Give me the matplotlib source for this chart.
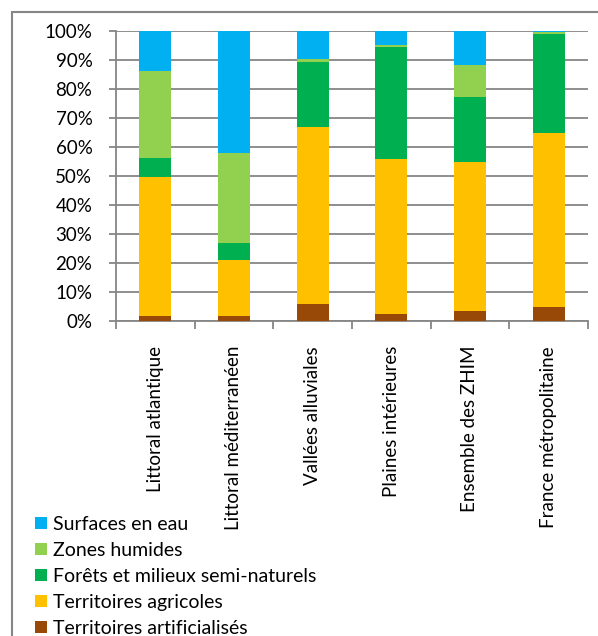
import matplotlib
matplotlib.use("Agg")
import matplotlib.pyplot as plt
from matplotlib.patches import Rectangle
from matplotlib.ticker import FixedLocator, PercentFormatter
import numpy as np

plt.rcParams['font.family'] = ['Lato', 'DejaVu Sans']

categories = ["Littoral atlantique", "Littoral méditerranéen", "Vallées alluviales",
              "Plaines intérieures", "Ensemble des ZHIM", "France métropolitaine"]

# parts in % (bottom to top)
artificialises = [1.8, 1.8, 5.9, 2.5, 3.3, 4.7]
agricoles = [48.0, 19.3, 61.0, 53.3, 51.6, 60.2]
forets = [6.5, 5.8, 22.4, 38.6, 22.5, 34.2]
humides = [29.9, 31.0, 1.0, 0.8, 10.9, 0.4]
eau = [13.8, 42.1, 9.7, 4.8, 11.7, 0.5]

series = [
    ("Territoires artificialisés", artificialises, "#984807"),
    ("Territoires agricoles", agricoles, "#FFC000"),
    ("Forêts et milieux semi-naturels", forets, "#00B050"),
    ("Zones humides", humides, "#92D050"),
    ("Surfaces en eau", eau, "#00B0F0"),
]

fig = plt.figure(figsize=(5.98, 6.36), dpi=100)
ax = fig.add_axes([116/598, 1-321/636, (588-116)/598, (321-31)/636])

x = np.arange(len(categories))
bottom = np.zeros(len(categories))
handles = []
for name, vals, col in series:
    b = ax.bar(x, vals, 0.41, bottom=bottom, color=col, label=name, zorder=3)
    handles.append(b)
    bottom += np.array(vals)

grey = "#868686"
ax.set_ylim(0, 100)
ax.set_xlim(-0.5, len(categories) - 0.5)
ax.set_yticks(np.arange(0, 101, 10))
ax.yaxis.set_major_formatter(PercentFormatter(decimals=0))
ax.grid(axis='y', color=grey, lw=1.3, zorder=0)
for s in ['top', 'right']:
    ax.spines[s].set_visible(False)
for s in ['left', 'bottom']:
    ax.spines[s].set_color(grey)
    ax.spines[s].set_linewidth(1.3)
ax.tick_params(axis='y', length=5, width=1.3, color=grey, labelsize=13.5, pad=12)

ax.set_xticks(x)
ax.set_xticklabels(categories, rotation=90, fontsize=13.5)
ax.tick_params(axis='x', which='major', length=0, pad=18)
ax.xaxis.set_minor_locator(FixedLocator(np.arange(-0.5, len(categories), 1)))
ax.tick_params(axis='x', which='minor', length=6, width=1.3, color=grey)

leg = fig.legend(handles[::-1], [s[0] for s in series][::-1], loc='upper left',
                 bbox_to_anchor=(35/598, 1-516/636), frameon=False, fontsize=14,
                 handlelength=0.62, handleheight=0.62, handletextpad=0.3,
                 labelspacing=0.46, borderaxespad=0, borderpad=0)

fig.patches.append(Rectangle((12/598, -0.1), 1.2, 1.1 - 12/636 + 0.0,
                             transform=fig.transFigure, fill=False,
                             edgecolor=grey, lw=1.5))

fig.savefig("out.png", dpi=100)
